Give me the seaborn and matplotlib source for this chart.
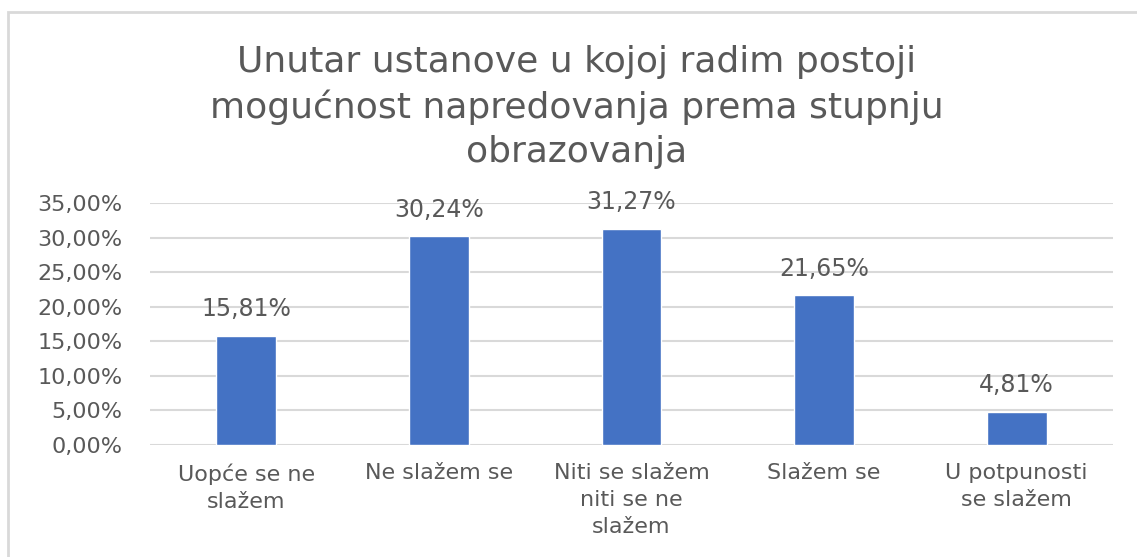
import matplotlib
matplotlib.use("Agg")
import matplotlib.pyplot as plt
import seaborn as sns
import pandas as pd
from matplotlib.patches import Rectangle
from matplotlib.ticker import FuncFormatter

sns.set_theme(style="white")
plt.rcParams['font.family'] = ['DejaVu Sans']

# --- dados ---
kategorije = ["Uopće se ne\nslažem", "Ne slažem se", "Niti se slažem\nniti se ne\nslažem",
              "Slažem se", "U potpunosti\nse slažem"]
postoci = [0.1581, 0.3024, 0.3127, 0.2165, 0.0481]
naslov = "Unutar ustanove u kojoj radim postoji\nmogućnost napredovanja prema stupnju\nobrazovanja"

df = pd.DataFrame({"kategorija": kategorije, "postotak": postoci})

siva_tekst = "#595959"
siva_linija = "#D9D9D9"
plava = "#4472C4"

fig = plt.figure(figsize=(11.37, 5.57), dpi=100)
ax = fig.add_axes([150 / 1137, 1 - 445 / 557, (1113 - 150) / 1137, (445 - 203) / 557])

sns.barplot(data=df, x="kategorija", y="postotak", color=plava, width=0.31,
            saturation=1, ax=ax)

ax.set_ylim(0, 0.35)
ax.set_xlim(-0.5, 4.5)
ax.set_yticks([i * 0.05 for i in range(8)])
ax.yaxis.set_major_formatter(FuncFormatter(lambda v, p: f"{v * 100:.2f}%".replace(".", ",")))
ax.grid(axis="y", color=siva_linija, linewidth=1.5)
ax.set_axisbelow(True)
for s in ax.spines.values():
    s.set_visible(False)
ax.set_xlabel("")
ax.set_ylabel("")
ax.set_xticks(range(len(kategorije)))
ax.set_xticklabels(kategorije, linespacing=1.45)
ax.tick_params(axis="y", length=0, pad=20, labelsize=16, labelcolor=siva_tekst)
ax.tick_params(axis="x", length=0, pad=13, labelsize=16, labelcolor=siva_tekst)

# oznake vrijednosti
for i, v in enumerate(postoci):
    ax.annotate(f"{v * 100:.2f}%".replace(".", ","), (i, v), xytext=(0, 19),
                textcoords="offset points", ha="center", va="center",
                fontsize=17, color=siva_tekst)

fig.text(0.507, 1 - 107 / 557, naslov, ha="center", va="center", fontsize=26,
         color=siva_tekst, linespacing=1.38)

# okvir grafikona
fig.patches.append(Rectangle((8 / 1137, -0.1), 1.2, 1 - 12 / 557 + 0.1,
                             transform=fig.transFigure, fill=False,
                             edgecolor=siva_linija, linewidth=2))

fig.savefig("out.png", dpi=100)
